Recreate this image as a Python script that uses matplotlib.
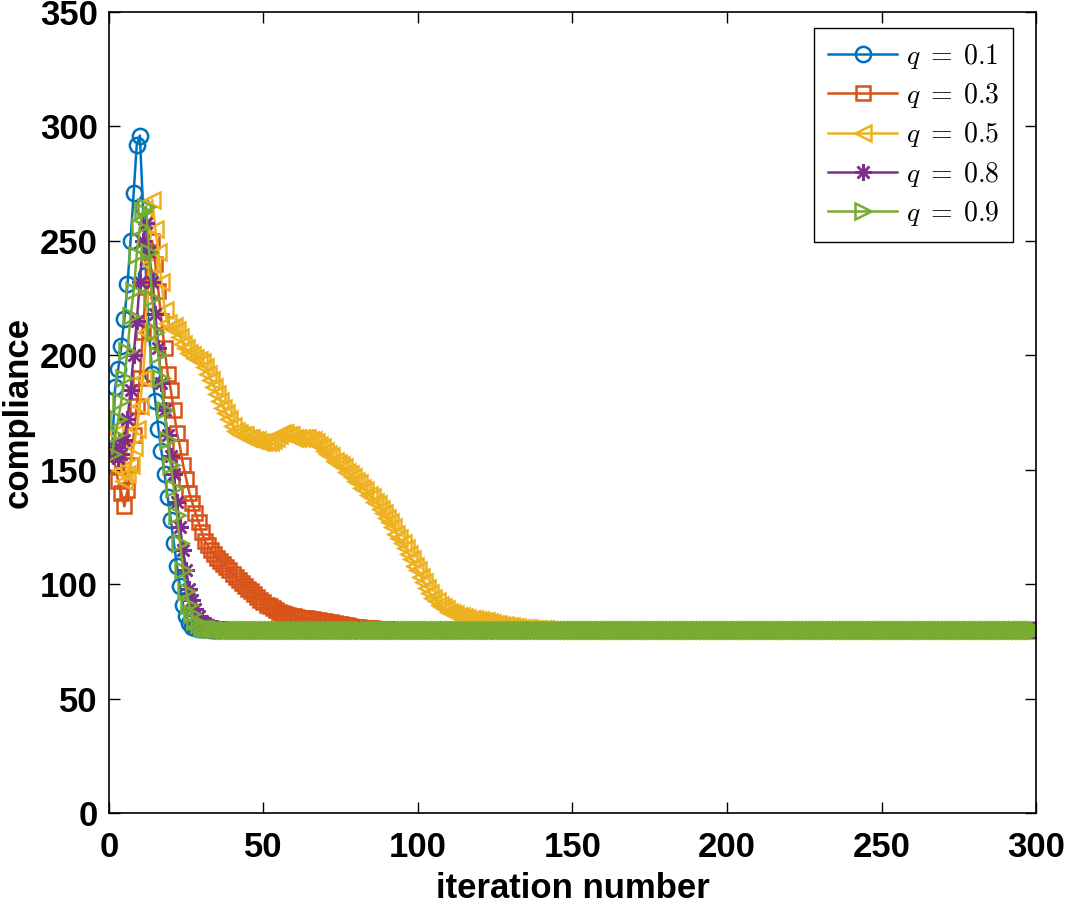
import matplotlib
matplotlib.use("Agg")
import matplotlib.pyplot as plt
import numpy as np

n_iter = 300
plateau = 80.0

# compliance per iteration, flat at the plateau afterwards
q01 = [158, 186, 194, 204, 216, 231, 250, 271, 292, 296,
       265, 235, 210, 192, 180, 168, 158, 148, 138, 128,
       118, 108, 99, 91, 86, 83, 81.5, 81, 80.6, 80.4,
       80.3, 80.2, 80.1]
q03 = [157, 152, 145, 140, 134, 141, 152, 165, 178, 190,
       210, 230, 245, 250, 240, 228, 215, 203, 192, 185,
       176, 166, 160, 152, 146, 140, 135.5, 131, 127, 123,
       119, 117, 115, 113, 111.5, 110, 108.7, 107.5, 106, 104.5,
       103, 101.7, 100.5, 99.2, 98, 96.8, 95.6, 94.3, 93, 92,
       91.1, 90.3, 89.5, 88.7, 88, 87.3, 86.9, 86.5, 86.2, 85.9,
       85.6, 85.4, 85.2, 85, 84.8, 84.6, 84.4, 84.2, 84, 83.8,
       83.6, 83.4, 83.1, 82.8, 82.5, 82.2, 82, 81.7, 81.5, 81.3,
       81.1, 81, 80.9, 80.8, 80.7, 80.6, 80.5, 80.4, 80.3, 80.2]
q05 = [157, 166, 158, 150, 145, 148, 152, 160, 168, 178,
       190, 210, 240, 268, 255, 245, 232, 220, 214, 212,
       213, 211, 208, 205, 203, 201, 200, 199, 198, 197,
       195, 192, 189, 186, 183, 180, 177, 175, 172, 169,
       167, 166, 165, 165, 164, 164, 163, 163, 162, 162,
       162, 162, 163, 164, 165, 166, 166, 165, 165, 164,
       164, 164, 164, 164, 163, 163, 162, 161, 160, 158,
       157, 156, 154, 153, 152, 151, 149, 148, 147, 145,
       144, 142, 141, 139, 138, 136, 135, 133, 131, 129,
       127, 125, 122, 120, 118, 116, 113, 111, 108, 106,
       103, 101, 98.5, 96, 94, 92.5, 91, 90, 89, 88,
       87.3, 86.8, 86.3, 85.9, 85.5, 85.2, 84.9, 84.6, 84.4, 84.2,
       84, 83.7, 83.4, 83.1, 82.8, 82.5, 82.2, 82, 81.8, 81.6,
       81.4, 81.2, 81, 80.9, 80.8, 80.7, 80.6, 80.5, 80.4, 80.3,
       80.2, 80.1]
q08 = [157, 160, 155, 157, 163, 172, 185, 200, 215, 232,
       250, 258, 245, 232, 218, 203, 188, 176, 165, 156,
       148, 136, 125, 115, 106, 98, 93, 89, 86, 84,
       83, 82, 81.5, 81, 80.7, 80.5, 80.3, 80.2, 80.1]
q09 = [157, 165, 172, 180, 190, 202, 217, 228, 244, 256,
       263, 265, 245, 225, 210, 200, 190, 176, 163, 152,
       142, 130, 118, 106, 97, 91, 87, 84, 82.5, 81.5,
       81, 80.7, 80.5, 80.4, 80.3, 80.2, 80.1]

labels = [r'$q\;=\;0.1$', r'$q\;=\;0.3$', r'$q\;=\;0.5$', r'$q\;=\;0.8$', r'$q\;=\;0.9$']
series = [q01, q03, q05, q08, q09]
colors = ['#0072BD', '#D95319', '#EDB120', '#7E2F8E', '#77AC30']
markers = ['o', 's', '<', (8, 2, 0), '>']
msizes = [11, 10, 12, 12, 12]

plt.rcParams['font.family'] = ['Liberation Sans', 'DejaVu Sans']
plt.rcParams['mathtext.fontset'] = 'cm'

fig = plt.figure(figsize=(10.65, 9.07), dpi=100)
ax = fig.add_axes([0.1023, 0.1036, 0.8705, 0.8832])

it = np.arange(1, n_iter + 1)
for s, lab, c, m, ms in zip(series, labels, colors, markers, msizes):
    y = np.array(s + [plateau] * (n_iter - len(s)))
    ax.plot(it, y, color=c, marker=m, markersize=ms, markerfacecolor='none',
            markeredgewidth=1.8, linewidth=1.8, label=lab)

ax.set_xlim(0, 300)
ax.set_ylim(0, 350)
ax.set_xticks(np.arange(0, 301, 50))
ax.set_yticks(np.arange(0, 351, 50))
ax.tick_params(direction='in', length=8, width=1.0, top=True, right=True,
               labelsize=25)
ax.tick_params(axis='x', pad=13)
ax.tick_params(axis='y', pad=8)
for lbl in ax.get_xticklabels() + ax.get_yticklabels():
    lbl.set_fontweight('bold')
for sp in ax.spines.values():
    sp.set_linewidth(1.2)

ax.set_xlabel('iteration number', fontsize=25, fontweight='bold', labelpad=6)
ax.set_ylabel('compliance', fontsize=25, fontweight='bold', labelpad=4)

leg = ax.legend(loc='upper right', bbox_to_anchor=(0.9752, 0.980),
                fontsize=20, handlelength=2.5, labelspacing=0.37,
                borderaxespad=0, fancybox=False, edgecolor='black',
                framealpha=1, handletextpad=0.3, borderpad=0.5)
leg.get_frame().set_linewidth(1.0)

fig.savefig('out.png', dpi=100)
